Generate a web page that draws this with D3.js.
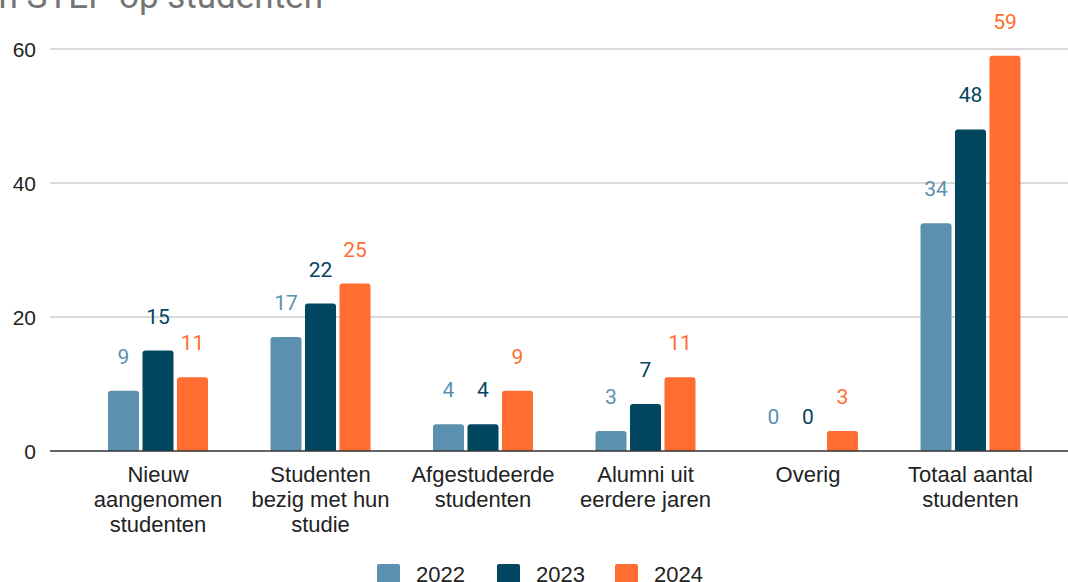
<!DOCTYPE html>
<html>
<head>
<meta charset="utf-8">
<script src="https://cdn.jsdelivr.net/npm/d3@7"></script>
<style>
  body { margin: 0; background: #fff; overflow: hidden; }
  svg { display: block; }
</style>
</head>
<body>
<div id="chart"></div>
<script>
// data
const categories = [
    ["Nieuw", "aangenomen", "studenten"],
    ["Studenten", "bezig met hun", "studie"],
    ["Afgestudeerde", "studenten"],
    ["Alumni uit", "eerdere jaren"],
    ["Overig"],
    ["Totaal aantal", "studenten"]
];
const years = ["2022", "2023", "2024"];
const values2022 = [9, 17, 4, 3, 0, 34];
const values2023 = [15, 22, 4, 7, 0, 48];
const values2024 = [11, 25, 9, 11, 3, 59];
const yTicks = [0, 20, 40, 60];
const colors = ["#5b91ae", "#03465f", "#ff6d31"];

const series = [values2022, values2023, values2024];

const W = 1068, H = 582;
const svg = d3.select("#chart").append("svg")
    .attr("width", W)
    .attr("height", H);

// title, only its lower part is inside the picture
svg.append("text")
    .attr("x", 323)
    .attr("y", 8)
    .attr("text-anchor", "end")
    .attr("font-family", "Roboto, sans-serif")
    .attr("font-size", 35)
    .attr("fill", "#757575")
    .text("Impact van STEP op studenten");

const xScale = d3.scaleBand()
    .domain(d3.range(categories.length))
    .range([76.75, 1051.75]);

const xInner = d3.scaleBand()
    .domain(years)
    .range([-50, 50])
    .paddingInner(0.1);

const yScale = d3.scaleLinear()
    .domain([0, 60])
    .range([451, 49]);

// gridlines
svg.append("g")
    .selectAll("line")
    .data(yTicks.filter(d => d > 0))
    .enter().append("line")
    .attr("x1", 50)
    .attr("x2", W)
    .attr("y1", d => yScale(d))
    .attr("y2", d => yScale(d))
    .attr("stroke", "#cccccc")
    .attr("stroke-width", 1.3);

// y labels
svg.append("g")
    .selectAll("text")
    .data(yTicks)
    .enter().append("text")
    .attr("x", 36)
    .attr("y", d => yScale(d) + 8)
    .attr("text-anchor", "end")
    .attr("font-family", "'Liberation Sans', Arial, sans-serif")
    .attr("font-size", 21)
    .attr("fill", "#222")
    .text(d => d);

// rounded-top bar path
function barPath(x, y, w, h, r) {
    if (h <= 0) return "";
    r = Math.min(r, h, w / 2);
    return "M" + x + "," + (y + h) +
        "V" + (y + r) +
        "Q" + x + "," + y + " " + (x + r) + "," + y +
        "H" + (x + w - r) +
        "Q" + (x + w) + "," + y + " " + (x + w) + "," + (y + r) +
        "V" + (y + h) + "Z";
}

const flat = [];
series.forEach((vals, si) => {
    vals.forEach((v, ci) => flat.push({ ci: ci, si: si, year: years[si], value: v }));
});

svg.append("g")
    .selectAll(".bar")
    .data(flat)
    .enter().append("path")
    .attr("class", "bar")
    .attr("fill", d => colors[d.si])
    .attr("d", d => {
        const x = xScale(d.ci) + xScale.bandwidth() / 2 + xInner(d.year);
        const y = yScale(d.value);
        return barPath(x, y, xInner.bandwidth(), yScale(0) - y, 3);
    });

// value labels
svg.append("g")
    .selectAll(".bar-label")
    .data(flat)
    .enter().append("text")
    .attr("class", "bar-label")
    .attr("x", d => xScale(d.ci) + xScale.bandwidth() / 2 + xInner(d.year) + xInner.bandwidth() / 2)
    .attr("y", d => yScale(d.value) - 27)
    .attr("text-anchor", "middle")
    .attr("font-family", "Roboto, sans-serif")
    .attr("font-size", 21)
    .attr("fill", d => colors[d.si])
    .text(d => d.value);

// baseline
svg.append("line")
    .attr("x1", 50)
    .attr("x2", W)
    .attr("y1", yScale(0))
    .attr("y2", yScale(0))
    .attr("stroke", "#333")
    .attr("stroke-width", 1.5);

// category labels
const catLabels = svg.append("g")
    .selectAll("text")
    .data(categories)
    .enter().append("text")
    .attr("x", (d, i) => xScale(i) + xScale.bandwidth() / 2)
    .attr("text-anchor", "middle")
    .attr("font-family", "'Liberation Sans', Arial, sans-serif")
    .attr("font-size", 22)
    .attr("fill", "#222");

catLabels.each(function(lines, i) {
    const t = d3.select(this);
    lines.forEach((line, j) => {
        t.append("tspan")
            .attr("x", xScale(i) + xScale.bandwidth() / 2)
            .attr("y", 482 + j * 25)
            .text(line);
    });
});

// legend
const legendX = [377, 497, 615];
const legend = svg.append("g")
    .selectAll("g")
    .data(years)
    .enter().append("g")
    .attr("transform", (d, i) => "translate(" + legendX[i] + ",564)");

legend.append("rect")
    .attr("width", 23)
    .attr("height", 23)
    .attr("rx", 2)
    .attr("fill", (d, i) => colors[i]);

legend.append("text")
    .attr("x", 39)
    .attr("y", 18)
    .attr("font-family", "'Liberation Sans', Arial, sans-serif")
    .attr("font-size", 22)
    .attr("fill", "#222")
    .text(d => d);
</script>
</body>
</html>
